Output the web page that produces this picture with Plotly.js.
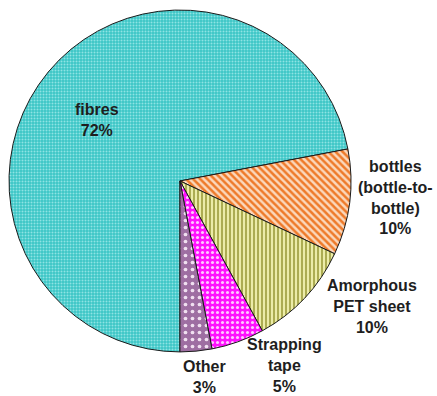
<!DOCTYPE html>
<html>
<head>
<meta charset="utf-8">
<script src="https://cdn.plot.ly/plotly-3.0.1.min.js"></script>
<style>html,body{margin:0;padding:0;background:#fff;}#chart{width:437px;height:396px;}</style>
</head>
<body>
<div id="chart"></div>
<script>
// Data
const categories = ["fibres", "bottles (bottle-to-bottle)", "Amorphous PET sheet", "Strapping tape", "Other"];
const displayLabels = ["fibres", "bottles<br>(bottle-to-<br>bottle)", "Amorphous<br>PET sheet", "Strapping<br>tape", "Other"];
const shares = [72, 10, 10, 5, 3];

// Styles
const baseColors = ["#45C9C9", "#F6B27A", "#D4D47A", "#FF2CFF", "#A67BA8"];
const patShapes = [".", "\\", "|", ".", "."];
const patFg = ["#8FE3E3", "#EE7A2A", "#9C9C3C", "#FFC8FF", "#F0E0F0"];
const patBg = ["#3CC6C6", "#FBD8BC", "#ECECA8", "#FF10FF", "#9E6EA2"];
const patSize = [3, 5, 4, 5, 7];
const patSolid = [0.35, 0.5, 0.4, 0.3, 0.22];

// label positions (paper coords)
const labelX = [0.222, 0.906, 0.851, 0.652, 0.467];
const labelY = [0.697, 0.5025, 0.2256, 0.078, 0.048];

const trace = {
  type: "pie",
  labels: categories,
  values: shares,
  sort: false,
  direction: "clockwise",
  rotation: 180,
  textinfo: "none",
  hoverinfo: "label+percent",
  showlegend: false,
  domain: {x: [0.0206, 0.803], y: [0.111, 0.975]},
  marker: {
    colors: baseColors,
    line: {color: "#1a1a1a", width: 1},
    pattern: {
      shape: patShapes,
      fgcolor: patFg,
      bgcolor: patBg,
      size: patSize,
      solidity: patSolid,
      fillmode: "replace"
    }
  }
};

const annotations = categories.map((c, i) => ({
  xref: "paper", yref: "paper",
  x: labelX[i], y: labelY[i],
  xanchor: "center", yanchor: "middle",
  showarrow: false,
  align: "center",
  text: "<b>" + displayLabels[i] + "<br>" + shares[i] + "%</b>",
  font: {family: "Liberation Sans, Arial, sans-serif", size: 16, color: "#1e1e1e"}
}));

const layout = {
  width: 437, height: 396,
  margin: {l: 0, r: 0, t: 0, b: 0},
  paper_bgcolor: "#ffffff",
  plot_bgcolor: "#ffffff",
  annotations: annotations
};

Plotly.newPlot("chart", [trace], layout, {displayModeBar: false, staticPlot: true});
</script>
</body>
</html>
